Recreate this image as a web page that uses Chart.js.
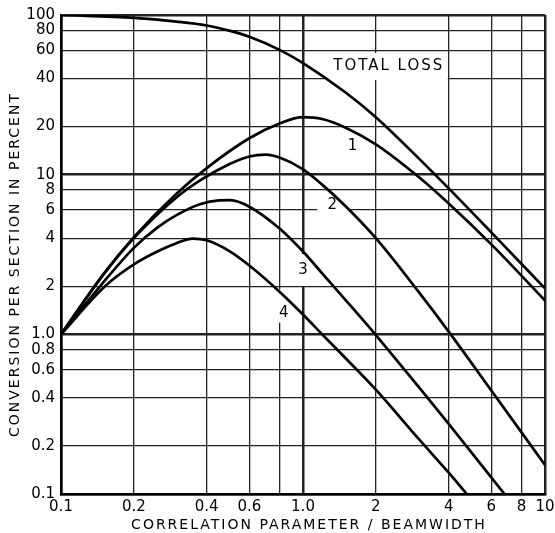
<!DOCTYPE html>
<html>
<head>
<meta charset="utf-8">
<script src="https://cdn.jsdelivr.net/npm/chart.js@4.4.0/dist/chart.umd.min.js"></script>
<style>
  html, body { margin: 0; padding: 0; background: #fff; }
  canvas { display: block; }
</style>
</head>
<body>
<canvas id="chart" width="555" height="533"></canvas>
<script>
// axis ticks (log-log paper)
const xTicks = [0.1, 0.2, 0.4, 0.6, 0.8, 1, 2, 4, 6, 8, 10];
const xTickLabels = ['0.1', '0.2', '0.4', '0.6', '', '1.0', '2', '4', '6', '8', '10'];
const yTicks = [0.1, 0.2, 0.4, 0.6, 0.8, 1, 2, 4, 6, 8, 10, 20, 40, 60, 80, 100];
const yTickLabels = ['0.1', '0.2', '0.4', '0.6', '0.8', '1.0', '2', '4', '6', '8', '10', '20', '40', '60', '80', '100'];

// curves
const totalX = [0.1, 0.2, 0.3, 0.4, 0.5, 0.6, 0.8, 1.0, 1.5, 2.0, 3.0, 4.0, 6.0, 10];
const totalY = [100, 96, 91, 86, 79.5, 73, 60.5, 50, 32.7, 22.9, 12.7, 8.2, 4.35, 1.94];

const c1X = [0.1, 0.15, 0.2, 0.3, 0.4, 0.6, 0.8, 1.0, 1.2, 1.5, 2.0, 3.0, 4.0, 6.0, 10];
const c1Y = [1.0, 2.39, 4.06, 7.6, 11.0, 16.9, 20.9, 22.9, 22.3, 19.7, 15.5, 9.7, 6.6, 3.66, 1.63];

const c2X = [0.1, 0.15, 0.2, 0.3, 0.38, 0.5, 0.6, 0.7, 0.8, 1.0, 1.2, 1.5, 2.0, 3.0, 4.0, 6.0, 10];
const c2Y = [1.0, 2.37, 4.0, 7.2, 9.3, 11.7, 13.0, 13.35, 12.8, 10.8, 8.66, 6.34, 4.0, 1.85, 1.04, 0.445, 0.152];

const c3X = [0.1, 0.145, 0.2, 0.25, 0.3, 0.375, 0.45, 0.5, 0.6, 0.8, 1.0, 1.2, 1.5, 2.0, 3.0, 4.0, 6.8];
const c3Y = [1.0, 2.0, 3.48, 4.66, 5.58, 6.53, 6.9, 6.92, 6.3, 4.6, 3.3, 2.41, 1.64, 0.99, 0.47, 0.275, 0.1];

const c4X = [0.1, 0.152, 0.2, 0.25, 0.3, 0.35, 0.4, 0.5, 0.6, 0.8, 1.0, 1.2, 1.5, 2.0, 3.0, 4.0, 4.75];
const c4Y = [1.0, 2.0, 2.74, 3.3, 3.72, 3.98, 3.88, 3.3, 2.7, 1.85, 1.33, 1.0, 0.708, 0.45, 0.222, 0.136, 0.1];

// curve labels, anchored in data units
const labelText = ['TOTAL LOSS', '1', '2', '3', '4'];
const labelX = [2.24, 1.6, 1.32, 1.0, 0.833];
const labelY = [47.6, 15.0, 6.49, 2.53, 1.36];
// white patch behind each label: width, height, vertical shift
const labelBox = [[120, 27, 0], [20, 24, 0], [30, 24, 0], [28, 32, 0], [28, 33, -7]];

const FONT = "'DejaVu Sans', sans-serif";

function isDecade(v) {
    const l = Math.log10(v);
    return Math.abs(l - Math.round(l)) < 1e-6;
}

function toPoints(xs, ys) {
    return xs.map((x, i) => ({ x: x, y: ys[i] }));
}

function curve(xs, ys) {
    return {
        data: toPoints(xs, ys),
        borderColor: '#000',
        borderWidth: 2.7,
        pointRadius: 0,
        fill: false,
        cubicInterpolationMode: 'monotone'
    };
}

const paperText = {
    id: 'paperText',
    beforeDatasetsDraw(chart) {
        // labels sit in white patches that break the grid
        const ctx = chart.ctx;
        const sx = chart.scales.x, sy = chart.scales.y;
        ctx.save();
        ctx.fillStyle = '#fff';
        labelText.forEach((t, i) => {
            const px = sx.getPixelForValue(labelX[i]);
            const py = sy.getPixelForValue(labelY[i]);
            const [w, h, dy] = labelBox[i];
            ctx.fillRect(px - w / 2, py + dy - h / 2, w, h);
        });
        ctx.restore();
    },
    afterDatasetsDraw(chart) {
        const ctx = chart.ctx;
        const sx = chart.scales.x, sy = chart.scales.y;
        const area = chart.chartArea;
        ctx.save();
        ctx.fillStyle = '#000';
        ctx.textAlign = 'center';
        ctx.textBaseline = 'middle';
        ctx.font = '15px ' + FONT;
        ctx.letterSpacing = '2px';
        labelText.forEach((t, i) => {
            ctx.fillText(t, sx.getPixelForValue(labelX[i]) + 1, sy.getPixelForValue(labelY[i]));
        });

        ctx.font = '14px ' + FONT;
        ctx.fillText('CORRELATION PARAMETER / BEAMWIDTH', (area.left + area.right) / 2 + 6, 525);

        ctx.translate(15, (area.top + area.bottom) / 2 + 10);
        ctx.rotate(-Math.PI / 2);
        ctx.fillText('CONVERSION PER SECTION IN PERCENT', 0, 0);
        ctx.restore();
    }
};

new Chart(document.getElementById('chart'), {
    type: 'line',
    data: {
        datasets: [
            curve(totalX, totalY),
            curve(c1X, c1Y),
            curve(c2X, c2Y),
            curve(c3X, c3Y),
            curve(c4X, c4Y)
        ]
    },
    options: {
        responsive: false,
        animation: false,
        devicePixelRatio: 1,
        layout: { padding: { top: 15, right: 10, left: 0, bottom: 0 } },
        plugins: {
            legend: { display: false },
            tooltip: { enabled: false }
        },
        scales: {
            x: {
                type: 'logarithmic',
                min: 0.1,
                max: 10,
                afterBuildTicks: s => { s.ticks = xTicks.map(v => ({ value: v })); },
                afterFit: s => {
                    s.height = 39;
                    s.paddingLeft = 0;
                    s.paddingRight = 0;
                },
                grid: {
                    color: '#222',
                    lineWidth: c => isDecade(c.tick.value) ? 2.5 : 1.3,
                    drawTicks: false
                },
                border: { color: '#000', width: 2.5 },
                ticks: {
                    autoSkip: false,
                    maxRotation: 0,
                    padding: 4,
                    color: '#000',
                    font: { family: FONT, size: 15 },
                    callback: (v, i) => xTickLabels[i]
                }
            },
            y: {
                type: 'logarithmic',
                min: 0.1,
                max: 100,
                afterBuildTicks: s => { s.ticks = yTicks.map(v => ({ value: v })); },
                afterFit: s => {
                    s.width = 61;
                    s.paddingTop = 0;
                    s.paddingBottom = 0;
                },
                grid: {
                    color: '#222',
                    lineWidth: c => isDecade(c.tick.value) ? 2.5 : 1.3,
                    drawTicks: false
                },
                border: { color: '#000', width: 2.5 },
                ticks: {
                    autoSkip: false,
                    padding: 6,
                    color: '#000',
                    font: { family: FONT, size: 15 },
                    callback: (v, i) => yTickLabels[i]
                }
            }
        }
    },
    plugins: [paperText]
});
</script>
</body>
</html>
